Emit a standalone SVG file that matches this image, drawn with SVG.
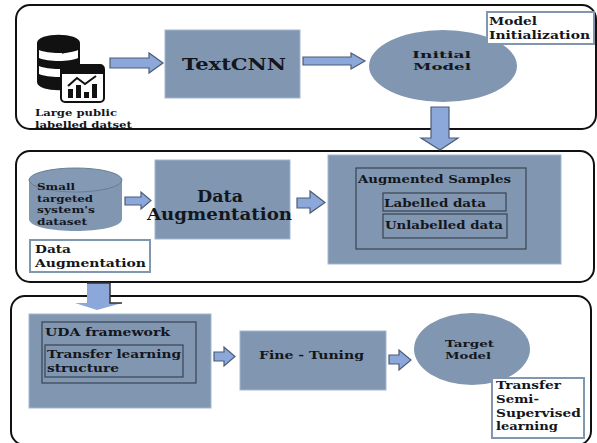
<svg xmlns="http://www.w3.org/2000/svg" width="597" height="443" viewBox="0 0 597 443">
<style>
text{font-family:"DejaVu Serif","Liberation Serif",serif;font-weight:700;fill:#14161c}
.t{font-size:10px}.m{font-size:11.500px}.l{font-size:13px}.x{font-size:16px}
.panel{fill:#fff;stroke:#111;stroke-width:2}
.block{fill:#8096b1;stroke:#a3b6d0;stroke-width:1}
.frame{fill:none;stroke:#3a4350;stroke-width:1.200}
.tag{fill:#fff;stroke:#8096b1;stroke-width:2}
.arrow{fill:#8ca7da;stroke:#4b5c75;stroke-width:1.200}
</style>
<rect class="panel" x="16" y="5" width="580" height="124" rx="14"/>
<rect class="panel" x="16" y="151" width="578" height="131" rx="14"/>
<rect class="panel" x="11" y="296" width="580" height="149" rx="14"/>
<g id="connectors">
<path class="arrow" d="M110 58H149V53L163 63L149 73V68H110Z"/>
<path class="arrow" d="M303 57H351V53L365 61L351 69V65H303Z"/>
<path class="arrow" d="M431 107H449V138H458L440 150L421 138H431Z"/>
<path class="arrow" d="M125 197H141V192L151 200.500L141 209V205H125Z"/>
<path class="arrow" d="M297 198H310V191L325 202.500L310 213V208H297Z"/>
<path class="arrow" d="M87 283H110V303H122L97 310L75 303H87Z" style="stroke:none"/>
<path d="M110 283V303H122M87 283H110" fill="none" stroke="#333" stroke-width="1.500"/>
<path class="arrow" d="M214 352H224V347L235 356.500L224 366V361H214Z"/>
<path class="arrow" d="M389 355H399V350L411 360L399 370V364H389Z"/>
</g>
<g id="database">
<path d="M37 43C37 32 80 32 80 43V82C80 93 37 93 37 82Z" fill="#111"/>
<path d="M39 50C48 54 70 54 78 50V58C70 62 48 62 39 58Z" fill="#fff"/>
<path d="M39 66C48 70 70 70 78 66V74C70 78 48 78 39 74Z" fill="#fff"/>
<path d="M62 53L74 50" stroke="#111" stroke-width="1.500" fill="none"/>
<rect x="61" y="65" width="43" height="37" rx="4" fill="#fff" stroke="#111" stroke-width="2"/>
<path d="M61 69Q61 65 65 65H100Q104 65 104 69V74H61Z" fill="#111"/>
<path d="M68 86L77 78L85 84L96 76" fill="none" stroke="#111" stroke-width="2"/>
<path d="M68 98V89h5V98ZM76 98V85h5V98ZM84 98V92h5V98ZM92 98V84h5V98Z" fill="#111"/>
<text class="t" x="35" y="116" textLength="82" lengthAdjust="spacingAndGlyphs">Large public</text>
<text class="t" x="35" y="128" textLength="97" lengthAdjust="spacingAndGlyphs">labelled datset</text>
</g>
<g id="textcnn">
<rect class="block" x="165" y="30" width="135" height="68"/>
<text class="x" x="182" y="70" textLength="104" lengthAdjust="spacingAndGlyphs">TextCNN</text>
</g>
<g id="initial-model">
<ellipse cx="443" cy="66" rx="74" ry="36" fill="#8096b1"/>
<text class="t" x="412" y="58" textLength="59" lengthAdjust="spacingAndGlyphs">Initial</text>
<text class="t" x="413" y="70" textLength="58" lengthAdjust="spacingAndGlyphs">Model</text>
</g>
<g id="tag-model-init">
<rect class="tag" x="487" y="12" width="107" height="32"/>
<text class="m" x="489" y="25" textLength="48" lengthAdjust="spacingAndGlyphs">Model</text>
<text class="m" x="489" y="39" textLength="101" lengthAdjust="spacingAndGlyphs">Initialization</text>
</g>
<g id="small-dataset">
<path d="M29 180V219C29 235 122 235 122 219V180Z" fill="#8096b1"/>
<ellipse cx="75.500" cy="180" rx="46.500" ry="12" fill="#8499b3" stroke="#6a7d96" stroke-width="1"/>
<text class="t" x="37" y="190" textLength="38" lengthAdjust="spacingAndGlyphs">Small</text>
<text class="t" x="37" y="201.500" textLength="56" lengthAdjust="spacingAndGlyphs">targeted</text>
<text class="t" x="37" y="213" textLength="58" lengthAdjust="spacingAndGlyphs">system's</text>
<text class="t" x="37" y="224.500" textLength="50" lengthAdjust="spacingAndGlyphs">dataset</text>
</g>
<g id="data-augmentation">
<rect class="block" x="155" y="160" width="135" height="79"/>
<text class="x" x="197" y="202" textLength="46" lengthAdjust="spacingAndGlyphs">Data</text>
<text class="x" x="147" y="219.500" textLength="145" lengthAdjust="spacingAndGlyphs">Augmentation</text>
</g>
<g id="tag-data-aug">
<rect class="tag" x="30" y="240" width="120" height="32"/>
<text class="m" x="35" y="253" textLength="36" lengthAdjust="spacingAndGlyphs">Data</text>
<text class="m" x="35" y="267" textLength="111" lengthAdjust="spacingAndGlyphs">Augmentation</text>
</g>
<g id="augmented-samples">
<rect class="block" x="328" y="155" width="233" height="109"/>
<rect class="frame" x="356" y="168" width="170" height="81"/>
<rect class="frame" x="383" y="193" width="123" height="18"/>
<rect class="frame" x="383" y="214" width="124" height="24"/>
<text class="m" x="358" y="183" textLength="153" lengthAdjust="spacingAndGlyphs">Augmented Samples</text>
<text class="m" x="384" y="207" textLength="102" lengthAdjust="spacingAndGlyphs">Labelled data</text>
<text class="m" x="385" y="229" textLength="118" lengthAdjust="spacingAndGlyphs">Unlabelled data</text>
</g>
<g id="uda">
<rect class="block" x="29" y="314" width="182" height="94"/>
<rect class="frame" x="42" y="322" width="154" height="61"/>
<rect class="frame" x="45" y="345" width="138" height="32"/>
<text class="m" x="45" y="336" textLength="125" lengthAdjust="spacingAndGlyphs">UDA framework</text>
<text class="m" x="47" y="358" textLength="134" lengthAdjust="spacingAndGlyphs">Transfer learning</text>
<text class="m" x="47" y="371.500" textLength="72" lengthAdjust="spacingAndGlyphs">structure</text>
</g>
<g id="fine-tuning">
<rect class="block" x="240" y="331" width="146" height="59"/>
<text class="m" x="259" y="359" textLength="105" lengthAdjust="spacingAndGlyphs">Fine - Tuning</text>
</g>
<g id="target-model">
<ellipse cx="472" cy="349" rx="58" ry="36" fill="#8096b1"/>
<text class="t" x="445" y="347" textLength="49" lengthAdjust="spacingAndGlyphs">Target</text>
<text class="t" x="445" y="359" textLength="46" lengthAdjust="spacingAndGlyphs">Model</text>
</g>
<g id="tag-transfer">
<rect class="tag" x="492" y="378" width="92" height="60"/>
<text class="m" x="496" y="389" textLength="65" lengthAdjust="spacingAndGlyphs">Transfer</text>
<text class="m" x="496" y="403" textLength="43" lengthAdjust="spacingAndGlyphs">Semi-</text>
<text class="m" x="496" y="417" textLength="85" lengthAdjust="spacingAndGlyphs">Supervised</text>
<text class="m" x="496" y="430" textLength="62" lengthAdjust="spacingAndGlyphs">learning</text>
</g>
</svg>
